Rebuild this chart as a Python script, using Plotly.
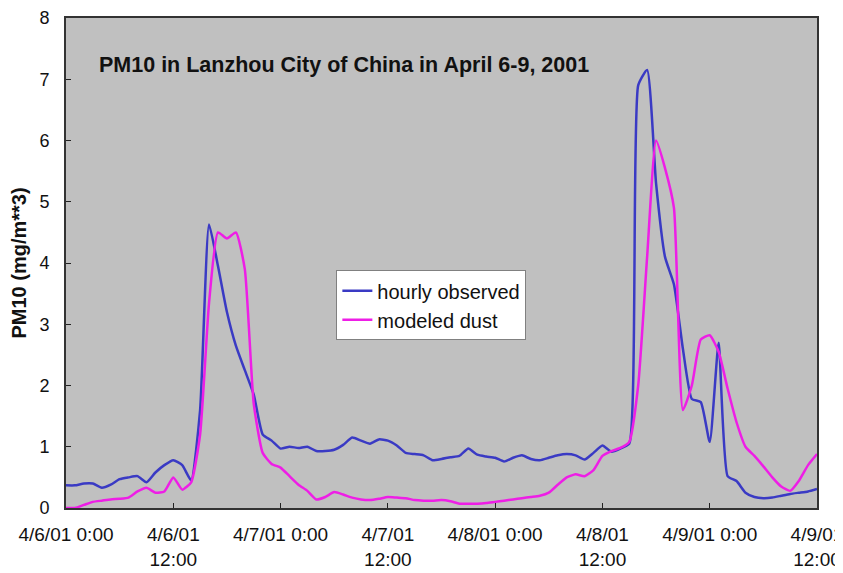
import plotly.graph_objects as go
import pandas as pd

start = "2001-04-06 00:00"
hours = list(range(85))

observed = [0.37, 0.37, 0.40, 0.40, 0.33, 0.38, 0.47, 0.50, 0.52, 0.42,
            0.58, 0.70, 0.78, 0.70, 0.45, 1.60, 4.63, 3.95, 3.20, 2.65,
            2.25, 1.85, 1.20, 1.10, 0.97, 1.00, 0.98, 1.00, 0.93, 0.93,
            0.95, 1.03, 1.15, 1.10, 1.05, 1.12, 1.10, 1.02, 0.90, 0.88,
            0.86, 0.78, 0.80, 0.83, 0.85, 0.97, 0.87, 0.84, 0.82, 0.76,
            0.82, 0.86, 0.80, 0.78, 0.82, 0.86, 0.88, 0.86, 0.79, 0.90,
            1.02, 0.92, 0.97, 1.05, 6.90, 7.15, 5.30, 4.10, 3.65, 2.60,
            1.78, 1.73, 1.08, 2.70, 0.52, 0.44, 0.25, 0.18, 0.16, 0.17,
            0.20, 0.23, 0.25, 0.27, 0.31]

modeled = [0.00, 0.00, 0.05, 0.10, 0.12, 0.14, 0.15, 0.17, 0.27, 0.33,
           0.25, 0.27, 0.50, 0.30, 0.42, 1.20, 3.35, 4.50, 4.40, 4.50,
           3.90, 1.70, 0.90, 0.72, 0.66, 0.52, 0.38, 0.28, 0.14, 0.18,
           0.26, 0.22, 0.17, 0.14, 0.13, 0.15, 0.18, 0.17, 0.16, 0.13,
           0.12, 0.12, 0.13, 0.11, 0.07, 0.07, 0.07, 0.08, 0.10, 0.12,
           0.14, 0.16, 0.18, 0.20, 0.25, 0.38, 0.50, 0.55, 0.52, 0.62,
           0.85, 0.93, 0.98, 1.08, 2.00, 4.10, 6.00, 5.55, 4.90, 1.60,
           2.00, 2.75, 2.82, 2.55, 1.95, 1.40, 1.00, 0.85, 0.68, 0.50,
           0.35, 0.28, 0.45, 0.70, 0.88]

tick_hours = [0, 12, 24, 36, 48, 60, 72, 84]
tick_labels = ["4/6/01 0:00", "4/6/01<br>12:00", "4/7/01 0:00", "4/7/01<br>12:00",
               "4/8/01 0:00", "4/8/01<br>12:00", "4/9/01 0:00", "4/9/01<br>12:00"]
y_ticks = [0, 1, 2, 3, 4, 5, 6, 7, 8]

t0 = pd.Timestamp(start)
times = [t0 + pd.Timedelta(hours=h) for h in hours]
tick_times = [t0 + pd.Timedelta(hours=h) for h in tick_hours]

fig = go.Figure()
fig.add_trace(go.Scatter(x=times, y=observed, mode="lines", name="hourly observed",
                         line=dict(color="#3a3ac4", width=2.5, shape="spline", smoothing=0.5)))
fig.add_trace(go.Scatter(x=times, y=modeled, mode="lines", name="modeled dust",
                         line=dict(color="#ee1ee6", width=2.5, shape="spline", smoothing=0.5)))

# the page body has an 8px default margin, so margins are reduced accordingly
fig.update_layout(
    width=843, height=573,
    margin=dict(l=58, r=34, t=10, b=73),
    paper_bgcolor="white",
    plot_bgcolor="#c0c0c0",
    font=dict(family="Arial, Liberation Sans, sans-serif", color="#111"),
    showlegend=True,
    legend=dict(x=0.36, y=0.485, xanchor="left", yanchor="top",
                bgcolor="white", bordercolor="#808080", borderwidth=1,
                font=dict(size=20, color="#111"), tracegroupgap=0,
                itemwidth=30),
    annotations=[dict(text="<b>PM10 in Lanzhou City of China in April 6-9, 2001</b>",
                      xref="paper", yref="paper", x=0.041, y=0.904,
                      xanchor="left", yanchor="middle", showarrow=False,
                      font=dict(size=21.5, color="#111"))],
)
fig.update_xaxes(range=[tick_times[0], tick_times[-1]], tickvals=tick_times,
                 ticktext=tick_labels, ticks="inside", ticklen=5, tickcolor="#222",
                 showgrid=False, zeroline=False, showline=True, linecolor="#333",
                 linewidth=2, mirror=True, tickfont=dict(size=19), tickangle=0,
                 ticklabelstandoff=8, automargin=False, ticklabeloverflow="allow")
fig.update_yaxes(range=[0, 8], tickvals=y_ticks, ticks="inside", ticklen=5,
                 tickcolor="#222", showgrid=False, zeroline=False, showline=True,
                 linecolor="#333", linewidth=2, mirror=True,
                 tickfont=dict(size=18), ticklabelstandoff=11, automargin=False,
                 ticklabeloverflow="allow",
                 title=dict(text="<b>PM10 (mg/m**3)</b>", font=dict(size=20), standoff=8))

fig.write_html("out.html")
